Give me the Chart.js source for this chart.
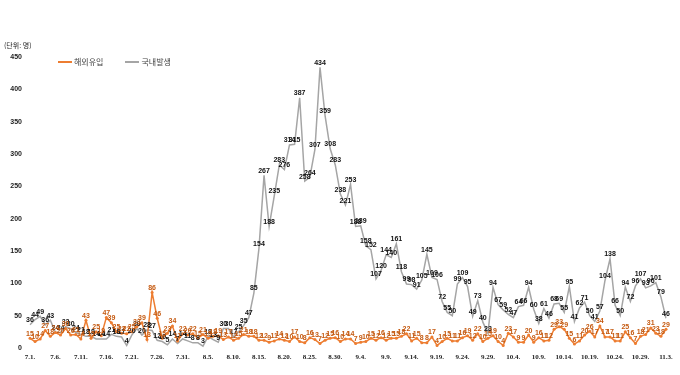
<!DOCTYPE html>
<html>
<head>
<meta charset="utf-8">
<script src="https://cdn.jsdelivr.net/npm/chart.js@4"></script>
<style>
  body { margin: 0; background: #fff; }
  .wrap { position: relative; width: 680px; height: 375px; }
  .unit { position: absolute; left: 4px; top: 40px; font: 7px "Noto Sans CJK KR", sans-serif; color: #222; }
  .legend { position: absolute; top: 56px; left: 58px; font: 8px "Noto Sans CJK KR", sans-serif; color: #404040; display: flex; align-items: center; }
  .legend span.sw { display: inline-block; width: 14px; height: 2px; margin-right: 2px; }
  .legend .item { display: flex; align-items: center; margin-right: 22px; }
</style>
</head>
<body>
<div class="wrap">
  <canvas id="chart" width="680" height="375"></canvas>
  <div class="unit">(단위: 명)</div>
  <div class="legend">
    <div class="item"><span class="sw" style="background:#ED7D31"></span>해외유입</div>
    <div class="item"><span class="sw" style="background:#A5A5A5"></span>국내발생</div>
  </div>
</div>
<script>
// months shown and how many days of each
const months = [7, 8, 9, 10, 11];
const monthDays = [31, 31, 30, 31, 3];

// 해외유입 (imported), per day from 7.1.
const importedJul = [15, 10, 14, 27, 18, 24, 20, 30, 20, 21, 14, 43, 15, 25, 19, 47, 39, 25, 23, 22, 25, 33, 39, 13, 86, 46, 15, 23, 34, 11, 22];
const importedAug = [20, 22, 15, 21, 15, 18, 19, 13, 17, 12, 15, 21, 18, 18, 12, 12, 9, 11, 14, 12, 10, 17, 10, 8, 16, 13, 7, 12, 15, 16, 10];
const importedSep = [14, 14, 7, 9, 10, 15, 12, 16, 12, 15, 15, 18, 22, 11, 15, 8, 8, 17, 4, 10, 15, 11, 11, 16, 19, 12, 22, 10, 15, 19];
const importedOct = [10, 4, 23, 17, 9, 9, 20, 9, 16, 11, 12, 29, 33, 29, 15, 6, 11, 20, 26, 17, 34, 17, 17, 11, 11, 25, 16, 7, 18, 21, 31];
const importedNov = [23, 18, 29];

// 국내발생 (domestic), per day from 7.1.
const domesticJul = [36, 44, 49, 36, 43, 24, 24, 33, 30, 24, 21, 18, 18, 14, 14, 14, 21, 18, 17, 4, 20, 30, 20, 28, 27, 12, 10, 5, 14, 7, 14];
const domesticAug = [11, 8, 8, 3, 18, 13, 9, 30, 30, 17, 25, 35, 47, 85, 154, 267, 188, 235, 283, 276, 314, 315, 387, 258, 264, 307, 434, 359, 308, 283, 238];
const domesticSep = [221, 253, 188, 189, 158, 152, 107, 120, 144, 140, 161, 118, 99, 98, 91, 105, 145, 109, 106, 72, 55, 50, 99, 109, 95, 49, 73, 40, 23, 94];
const domesticOct = [67, 59, 52, 47, 64, 66, 94, 60, 38, 61, 46, 68, 69, 55, 95, 41, 62, 71, 50, 41, 57, 104, 138, 66, 50, 94, 72, 96, 107, 93, 96];
const domesticNov = [101, 79, 46];

const imported = [...importedJul, ...importedAug, ...importedSep, ...importedOct, ...importedNov];
const domestic = [...domesticJul, ...domesticAug, ...domesticSep, ...domesticOct, ...domesticNov];

const yTicks = [0, 50, 100, 150, 200, 250, 300, 350, 400, 450];

const labels = [];
months.forEach((m, i) => {
  for (let d = 1; d <= monthDays[i]; d++) labels.push(m + "." + d + ".");
});

// draws the number over every point
const valueLabels = {
  id: "valueLabels",
  afterDatasetsDraw(chart) {
    const ctx = chart.ctx;
    ctx.save();
    ctx.font = 'bold 7px "Liberation Sans", sans-serif';
    ctx.textAlign = "center";
    ctx.textBaseline = "bottom";
    for (let i = chart.data.datasets.length - 1; i >= 0; i--) {
      const ds = chart.data.datasets[i];
      const meta = chart.getDatasetMeta(i);
      ctx.fillStyle = ds.labelColor;
      meta.data.forEach((pt, j) => {
        ctx.fillText(ds.data[j], pt.x, pt.y - 1);
      });
    }
    ctx.restore();
  },
};

new Chart(document.getElementById("chart"), {
  type: "line",
  data: {
    labels: labels,
    datasets: [
      {
        label: "해외유입",
        data: imported,
        borderColor: "#ED7D31",
        backgroundColor: "#ED7D31",
        borderWidth: 1.5,
        pointRadius: 1.5,
        pointBorderWidth: 0,
        labelColor: "#C55A11",
        tension: 0,
      },
      {
        label: "국내발생",
        data: domestic,
        borderColor: "#A5A5A5",
        backgroundColor: "#A5A5A5",
        borderWidth: 1.5,
        pointRadius: 0,
        labelColor: "#111",
        tension: 0,
      },
    ],
  },
  options: {
    responsive: false,
    animation: false,
    layout: { padding: { top: 57, right: 14, left: 0, bottom: 0 } },
    plugins: {
      legend: { display: false },
      tooltip: { enabled: false },
    },
    scales: {
      x: {
        offset: false,
        grid: { display: false, drawTicks: false },
        border: { display: false },
        afterFit: (scale) => { scale.height = 27; },
        ticks: {
          autoSkip: false,
          maxRotation: 0,
          padding: 5,
          color: "#222",
          font: { family: "Liberation Serif", size: 7, weight: "bold" },
          callback: (val, i) => (i % 5 === 0 ? labels[i] : ""),
        },
      },
      y: {
        min: 0,
        max: 450,
        grid: { display: false, drawTicks: false },
        border: { display: false },
        afterFit: (scale) => { scale.width = 30; },
        afterBuildTicks: (scale) => { scale.ticks = yTicks.map((v) => ({ value: v })); },
        ticks: {
          padding: 8,
          color: "#222",
          font: { family: "Liberation Sans", size: 7, weight: "bold" },
        },
      },
    },
  },
  plugins: [valueLabels],
});
</script>
</body>
</html>
